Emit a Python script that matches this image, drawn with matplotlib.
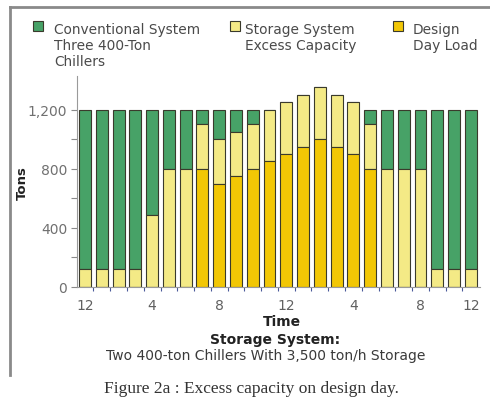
import matplotlib
matplotlib.use("Agg")
import matplotlib.pyplot as plt
from matplotlib.patches import Rectangle
from matplotlib.ticker import FixedLocator

# ---- data ----
hours = list(range(24))
design_day_load = [0, 0, 0, 0, 0, 0, 0, 800, 700, 750, 800, 850,
                   900, 950, 1000, 950, 900, 800, 0, 0, 0, 0, 0, 0]
storage_excess = [120, 120, 120, 120, 490, 800, 800, 300, 300, 300, 300, 350,
                  350, 350, 350, 350, 350, 300, 800, 800, 800, 120, 120, 120]
conventional_capacity = [1200] * 24
tick_hours = [0, 4, 8, 12, 16, 20, 23]
tick_labels = ["12", "4", "8", "12", "4", "8", "12"]
legend_labels = ["Conventional System\nThree 400-Ton\nChillers",
                 "Storage System\nExcess Capacity",
                 "Design\nDay Load"]

GREEN = "#47a267"
LIGHT = "#f4ea86"
GOLD = "#f2c705"
EDGE = "#3a3a2c"

W, H = 490, 402
fig = plt.figure(figsize=(W / 100, H / 100), dpi=100)
fig.patch.set_facecolor("white")

def fx(px):
    return px / W

def fy(py):
    return 1 - py / H

ax = fig.add_axes([fx(77), fy(288), fx(480) - fx(77), fy(76.6) - fy(288)])

storage_top = [l + e for l, e in zip(design_day_load, storage_excess)]
green_h = [max(0, c - t) for c, t in zip(conventional_capacity, storage_top)]
bw = 0.71
ax.bar(hours, green_h, bottom=storage_top, width=bw, color=GREEN,
       edgecolor=EDGE, linewidth=0.8, zorder=2)
ax.bar(hours, storage_excess, bottom=design_day_load, width=bw, color=LIGHT,
       edgecolor=EDGE, linewidth=0.8, zorder=2)
ax.bar(hours, design_day_load, width=bw, color=GOLD,
       edgecolor=EDGE, linewidth=0.8, zorder=2)

ax.set_xlim(-0.48, 23.55)
ax.set_ylim(0, 1430)
for s in ["top", "right"]:
    ax.spines[s].set_visible(False)
ax.spines["left"].set_color("#9a9a9a")
ax.spines["left"].set_linewidth(0.8)
ax.spines["bottom"].set_color("#9a9a9a")
ax.spines["bottom"].set_linewidth(0.8)

ax.set_yticks([0, 400, 800, 1200])
ax.set_yticklabels(["0", "400", "800", "1,200"])
ax.yaxis.set_minor_locator(FixedLocator([200, 600, 1000]))
ax.tick_params(axis="y", which="both", length=4, width=0.8, color="#8a8a8a",
               labelsize=10, labelcolor="#707070", pad=3)

ax.set_xticks(tick_hours)
ax.set_xticklabels(tick_labels)
ax.xaxis.set_minor_locator(FixedLocator([h + 0.5 for h in hours[:-1]] + [-0.5]))
ax.tick_params(axis="x", which="major", length=0, labelsize=10,
               labelcolor="#606060", pad=8)
ax.tick_params(axis="x", which="minor", length=3, width=0.8, color="#4a5a9a")

fig.text(fx(22), fy(183), "Tons", rotation=90, ha="center", va="center",
         fontsize=9.5, fontweight="bold", color="#222222")
fig.text(fx(282), fy(322), "Time", ha="center", va="center",
         fontsize=10, fontweight="bold", color="#222222")
fig.text(fx(275), fy(340), "Storage System:", ha="center", va="center",
         fontsize=10, fontweight="bold", color="#222222")
fig.text(fx(266), fy(356), "Two 400-ton Chillers With 3,500 ton/h Storage",
         ha="center", va="center", fontsize=10, color="#3a3a3a")
fig.text(fx(251), fy(389), "Figure 2a : Excess capacity on design day.",
         ha="center", va="center", fontsize=12.5, color="#333333",
         family=["Liberation Serif", "DejaVu Serif"])

# legend
patch_x = [33, 230, 393]
text_x = [54, 245, 413]
for c, px, tx, lab in zip([GREEN, LIGHT, GOLD], patch_x, text_x, legend_labels):
    fig.patches.append(Rectangle((fx(px), fy(32)), fx(10), fy(22) - fy(32),
                                 transform=fig.transFigure, facecolor=c,
                                 edgecolor=EDGE, linewidth=0.8))
    fig.text(fx(tx), fy(23), lab, ha="left", va="top", fontsize=9.9,
             color="#4a4a4a", linespacing=1.2)

# frame
fig.add_artist(plt.Line2D([fx(10), fx(10)], [fy(8), fy(376)],
                          transform=fig.transFigure, color="#8a8a8a", lw=2))
fig.add_artist(plt.Line2D([fx(10), fx(490)], [fy(8), fy(8)],
                          transform=fig.transFigure, color="#8a8a8a", lw=2))

fig.savefig("out.png", dpi=100)
